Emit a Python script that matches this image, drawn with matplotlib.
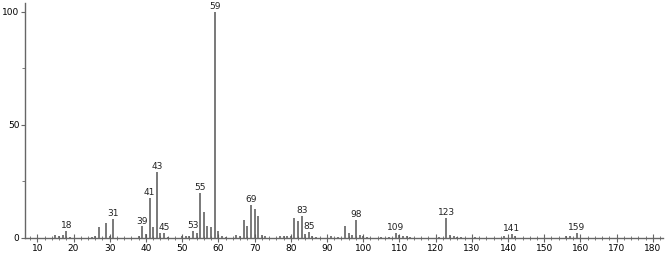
import numpy as np
import matplotlib.pyplot as plt

# m/z and relative intensity
mz = [15, 16, 17, 18, 19, 25, 26, 27, 29, 30, 31, 38, 39, 40, 41, 42, 43, 44, 45, 46,
      50, 51, 52, 53, 54, 55, 56, 57, 58, 59, 60, 61, 62,
      65, 66, 67, 68, 69, 70, 71, 72, 73, 77, 78, 79, 80, 81, 82, 83, 84, 85, 86, 87,
      91, 93, 95, 96, 97, 98, 99, 100, 101, 105, 107, 109, 110, 111, 112, 113,
      121, 123, 124, 125, 126, 127, 131, 139, 141, 142, 156, 157, 159]
intensity = [1.3, 0.7, 0.9, 2.8, 0.3, 0.4, 0.8, 4.6, 6.6, 0.8, 8.4, 0.7, 4.9, 1.5, 17.7, 4.6, 28.9, 2.1, 2.1, 0.3,
             0.7, 0.5, 0.8, 2.7, 2.1, 19.6, 11.4, 5.2, 4.6, 100, 3.0, 0.7, 0.3,
             0.9, 0.5, 7.7, 4.9, 14.6, 12.8, 9.3, 0.9, 0.8, 0.5, 0.6, 0.7, 0.6, 8.8, 7.1, 9.7, 1.5, 2.4, 0.7, 0.4,
             0.5, 0.4, 5.2, 1.8, 0.9, 7.7, 1.0, 0.5, 0.4, 0.3, 0.4, 2.2, 0.9, 0.8, 0.5, 0.4,
             0.4, 8.7, 1.2, 0.5, 0.4, 0.3, 0.3, 0.5, 1.5, 0.5, 0.5, 0.5, 1.9]
labelled = [18, 31, 39, 41, 43, 45, 53, 55, 59, 69, 83, 85, 98, 109, 123, 141, 159]

fig = plt.figure(figsize=(6.66, 2.54), dpi=100)
ax = fig.add_axes([25 / 666, 16.5 / 254, 638 / 666, 235 / 254])

ax.vlines(mz, 0, intensity, color='#555555', linewidth=1.1)
for m, h in zip(mz, intensity):
    if m in labelled:
        ax.text(m, h + 0.4, str(m), ha='center', va='bottom', fontsize=6.5, color='#222222')

ax.set_xlim(6.6, 182.8)
ax.set_ylim(0, 104)
ax.set_xticks(np.arange(10, 181, 10))
ax.set_xticks(np.arange(8, 183, 2), minor=True)
ax.set_yticks([0, 50, 100])
ax.set_yticks([25, 75], minor=True)

for s in ['top', 'right']:
    ax.spines[s].set_visible(False)
for s in ['left', 'bottom']:
    ax.spines[s].set_color('#666666')
    ax.spines[s].set_linewidth(1)

ax.tick_params(axis='x', which='major', direction='inout', length=6, color='#666666',
               labelsize=6.5, pad=2)
ax.tick_params(axis='x', which='minor', direction='inout', length=3, color='#666666')
ax.tick_params(axis='y', which='major', direction='out', length=3, color='#666666',
               labelsize=6.5, pad=1)
ax.tick_params(axis='y', which='minor', direction='out', length=2, color='#666666')

fig.savefig('out.png', dpi=100)
